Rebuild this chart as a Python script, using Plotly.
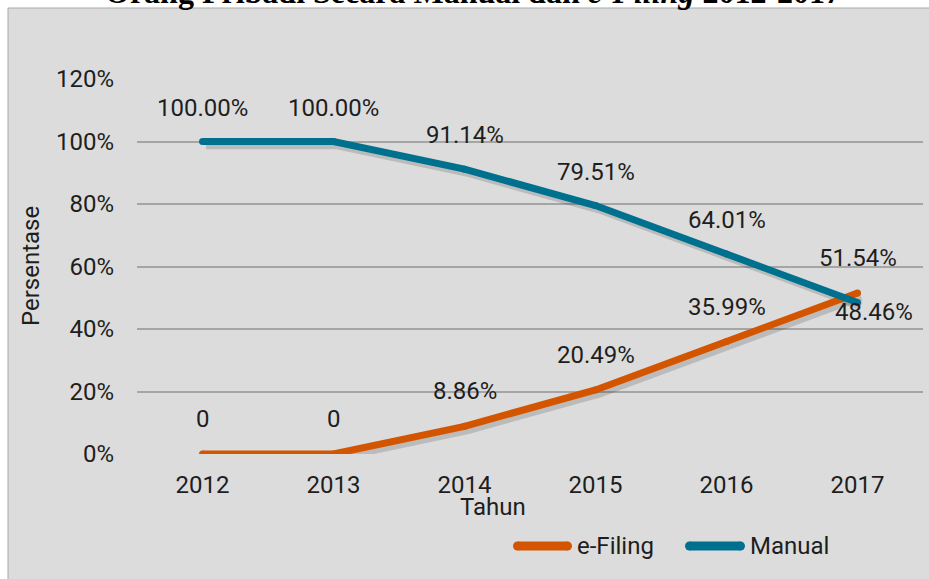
import plotly.graph_objects as go

years = ["2012", "2013", "2014", "2015", "2016", "2017"]
efiling = [0, 0, 8.86, 20.49, 35.99, 51.54]
manual = [100, 100, 91.14, 79.51, 64.01, 48.46]
y_ticks = [0, 20, 40, 60, 80, 100, 120]

W, H = 929, 579
ML, MR, MT, MB = 137, 6, 79, 125
PW, PH = W - ML - MR, H - MT - MB

def px(x):
    return (x - ML) / PW

def py(y):
    return (H - MB - y) / PH

ORANGE = "#d45500"
BLUE = "#00708f"
TXT = "#1e1e1e"
FONT = "Roboto"

xi = list(range(len(years)))
# shadow offset (pixels) converted to axis units
sx = 3.5 / (PW / 6.0)
sy = 3.5 / (PH / 120.0)

def lab(v):
    return "0" if v == 0 else f"{v:.2f}%"

fig = go.Figure()

# shadows on primary (hidden) axes with shifted ranges
for vals in (efiling, manual):
    fig.add_trace(go.Scatter(x=xi, y=vals, mode="lines", xaxis="x", yaxis="y",
                             line=dict(color="rgba(0,0,0,0.15)", width=8.5),
                             hoverinfo="skip", showlegend=False))

# main lines on overlay axes
for vals, col, name in ((efiling, ORANGE, "e-Filing"), (manual, BLUE, "Manual")):
    fig.add_trace(go.Scatter(x=xi, y=vals, mode="lines+markers", xaxis="x2", yaxis="y2",
                             line=dict(color=col, width=7),
                             marker=dict(color=col, size=7, line=dict(width=0)),
                             name=name, showlegend=False))

ann = []
for i, v in enumerate(manual):
    xs, ys = 0, 34
    if i == len(manual) - 1:
        xs, ys = 16, -9
    ann.append(dict(x=i, y=v, xref="x2", yref="y2", text=lab(v), showarrow=False,
                    xanchor="center", yanchor="middle",
                    xshift=xs, yshift=ys, font=dict(family=FONT, size=24, color=TXT)))
for i, v in enumerate(efiling):
    ann.append(dict(x=i, y=v, xref="x2", yref="y2", text=lab(v), showarrow=False,
                    xanchor="center", yanchor="middle",
                    xshift=0, yshift=35, font=dict(family=FONT, size=24, color=TXT)))

ann.append(dict(x=px(493), y=py(507), xref="paper", yref="paper", text="Tahun",
                xanchor="center", yanchor="middle",
                showarrow=False, font=dict(family=FONT, size=24, color=TXT)))
ann.append(dict(x=px(31), y=py(266), xref="paper", yref="paper", text="Persentase",
                xanchor="center", yanchor="middle",
                textangle=-90, showarrow=False, font=dict(family=FONT, size=24, color=TXT)))
ann.append(dict(x=px(473), y=py(-8), xref="paper", yref="paper",
                text="<b>Orang Pribadi Secara Manual dan <i>e-Filing</i> 2012-2017</b>",
                xanchor="center", yanchor="middle",
                showarrow=False, font=dict(family="Liberation Serif", size=32, color="#000000")))

# legend texts
ann.append(dict(x=px(575), y=py(546), xref="paper", yref="paper", text="e-Filing",
                xanchor="left", yanchor="middle",
                showarrow=False, font=dict(family=FONT, size=24, color=TXT)))
ann.append(dict(x=px(748), y=py(546), xref="paper", yref="paper", text="Manual",
                xanchor="left", yanchor="middle",
                showarrow=False, font=dict(family=FONT, size=24, color=TXT)))

shapes = [dict(type="rect", xref="paper", yref="paper", x0=px(8), x1=px(940),
               y0=py(8), y1=py(590), fillcolor="#dcdcdc",
               line=dict(color="#a8a8a8", width=1), layer="below")]

def leg(x0, x1, yc, col, w=9):
    r = w / 2.0
    out = [dict(type="line", xref="paper", yref="paper", x0=px(x0 + r), x1=px(x1 - r),
                y0=py(yc), y1=py(yc), line=dict(color=col, width=w))]
    for cx in (x0 + r, x1 - r):
        out.append(dict(type="circle", xref="paper", yref="paper",
                        x0=px(cx - r), x1=px(cx + r), y0=py(yc - r), y1=py(yc + r),
                        fillcolor=col, line=dict(width=0)))
    return out

shapes += leg(513, 572, 546, ORANGE)
shapes += leg(685, 745, 546, BLUE)

fig.update_layout(
    width=W, height=H,
    margin=dict(l=ML, r=MR, t=MT, b=MB),
    paper_bgcolor="white", plot_bgcolor="rgba(0,0,0,0)",
    showlegend=False,
    xaxis=dict(range=[-0.5 - sx, 5.5 - sx], visible=False, fixedrange=True),
    yaxis=dict(range=[0 + sy, 120 + sy], visible=False, fixedrange=True),
    xaxis2=dict(overlaying="x", anchor="y2", side="bottom", range=[-0.5, 5.5],
                tickmode="array", tickvals=xi, ticktext=years, showgrid=False,
                zeroline=False, showline=False, ticks="", ticklabelstandoff=14,
                tickfont=dict(family=FONT, size=24, color=TXT)),
    yaxis2=dict(overlaying="y", anchor="x2", side="left", range=[0, 120],
                tickmode="array", tickvals=y_ticks,
                ticktext=[f"{t}%" for t in y_ticks], showgrid=True,
                gridcolor="#a5a5a5", gridwidth=1.6, zeroline=False, showline=False,
                ticks="", ticklabelstandoff=22,
                tickfont=dict(family=FONT, size=24, color=TXT)),
    annotations=ann,
    shapes=shapes,
)

fig.write_html("out.html", config={"displayModeBar": False},
               post_script="document.body.style.margin='0';document.body.style.overflow='hidden';")
